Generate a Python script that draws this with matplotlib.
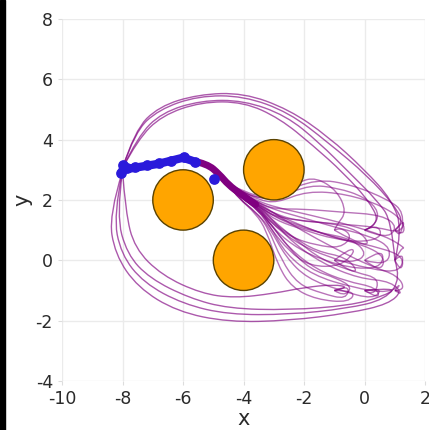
import matplotlib
matplotlib.use("Agg")
import matplotlib.pyplot as plt
from matplotlib.path import Path
from matplotlib.patches import PathPatch, Circle, Rectangle

plt.rcParams["axes.unicode_minus"] = False

# obstacles
obs_x = [-6.0, -3.0, -4.0]
obs_y = [2.0, 3.0, 0.0]
obs_r = [1.0, 1.0, 1.0]

# executed part (blue) and shared purple bundle
exec_x = [-8.0, -7.4, -6.8, -6.4, -6.0, -5.7]
exec_y = [3.0, 3.1, 3.2, 3.3, 3.4, 3.3]
dots_x = [-8.05, -8.0, -7.85, -7.6, -7.2, -6.8, -6.4, -5.96, -5.6, -4.97]
dots_y = [2.9, 3.15, 3.05, 3.1, 3.15, 3.22, 3.3, 3.44, 3.25, 2.7]

bundle_x = [-5.7, -5.2, -4.8, -4.5]
bundle_y = [3.3, 3.2, 2.85, 2.5]

# fanned out trajectories (tails after the bundle), three per goal
fan_x = [
    [-4.1, -3.5, -3.0, -2.2, -1.2, -0.2, 0.2, -0.3, -1.0],
    [-4.1, -3.5, -2.9, -2.2, -1.6, -0.9, -0.6, -0.9, -1.0],
    [-4.1, -3.5, -3.1, -2.4, -1.6, -0.8, -0.4, -0.8, -1.0],
    [-4.1, -3.5, -3.0, -2.0, -0.8, 0.6, 1.1, 0.7, 0.0],
    [-4.1, -3.5, -2.8, -1.8, -0.9, 0.0, 0.5, 0.3, 0.0],
    [-4.1, -3.5, -3.0, -2.0, -1.0, 0.0, 0.6, 0.4, 0.0],
    [-4.1, -3.5, -2.9, -1.9, -0.6, 0.6, 1.3, 1.3, 1.0],
    [-4.1, -3.5, -3.0, -2.0, -0.8, 0.4, 1.2, 1.35, 1.0],
    [-4.1, -3.5, -2.8, -1.6, -0.4, 0.8, 1.3, 1.2, 1.0],
    [-4.1, -3.5, -3.1, -2.4, -1.6, -0.6, -0.2, -0.6, -1.0],
    [-4.1, -3.5, -3.1, -2.5, -1.8, -0.8, -0.3, -0.5, -1.0],
    [-4.1, -3.5, -3.0, -2.2, -1.4, -0.4, 0.1, -0.4, -1.0],
    [-4.1, -3.5, -3.0, -2.2, -1.2, 0.0, 0.7, 0.5, 0.0],
    [-4.1, -3.5, -3.1, -2.4, -1.4, -0.2, 0.6, 0.6, 0.0],
    [-4.1, -3.5, -2.9, -2.0, -1.0, 0.2, 0.9, 0.7, 0.0],
    [-4.1, -3.5, -3.0, -2.0, -0.8, 0.6, 1.3, 1.2, 1.0],
    [-4.1, -3.5, -2.9, -1.8, -0.6, 0.7, 1.35, 1.2, 1.0],
    [-4.1, -3.5, -3.1, -2.3, -1.2, 0.2, 1.2, 1.3, 1.0],
    [-4.15, -3.6, -3.2, -2.75, -2.2, -1.4, -0.6, -0.5, -1.0],
    [-4.15, -3.6, -3.25, -2.85, -2.4, -1.6, -0.5, -0.3, -1.0],
    [-4.1, -3.5, -3.1, -2.5, -1.8, -0.9, -0.4, -0.7, -1.0],
    [-4.1, -3.5, -3.1, -2.5, -1.6, -0.6, 0.4, 0.5, 0.0],
    [-4.15, -3.6, -3.15, -2.6, -1.9, -0.8, 0.3, 0.6, 0.0],
    [-4.1, -3.5, -3.0, -2.3, -1.4, -0.3, 0.5, 0.3, 0.0],
    [-4.1, -3.5, -3.0, -2.4, -1.4, -0.2, 0.9, 1.3, 1.0],
    [-4.1, -3.5, -3.1, -2.6, -1.7, -0.4, 0.8, 1.3, 1.0],
    [-4.1, -3.5, -2.9, -2.1, -1.0, 0.2, 1.1, 1.35, 1.0],
]
fan_y = [
    [2.2, 1.85, 1.55, 1.3, 1.25, 1.0, 0.5, 0.6, 1.0],
    [2.3, 2.05, 2.05, 2.6, 2.75, 2.3, 1.6, 1.2, 1.0],
    [2.15, 1.75, 1.25, 0.75, 0.5, 0.4, 0.8, 1.1, 1.0],
    [2.25, 1.9, 1.7, 1.7, 1.6, 1.5, 1.1, 0.7, 1.0],
    [2.3, 2.05, 2.1, 2.5, 2.4, 2.1, 1.6, 1.1, 1.0],
    [2.2, 1.8, 1.35, 1.0, 0.7, 0.6, 0.8, 1.2, 1.0],
    [2.3, 2.0, 1.9, 2.3, 2.2, 1.8, 1.3, 0.8, 1.0],
    [2.2, 1.85, 1.45, 1.3, 1.2, 1.1, 0.9, 1.4, 1.0],
    [2.35, 2.1, 2.2, 2.7, 2.5, 2.0, 1.6, 0.7, 1.0],
    [2.15, 1.75, 1.3, 0.8, 0.3, 0.1, -0.4, -0.3, 0.0],
    [2.1, 1.65, 1.05, 0.3, -0.2, -0.2, 0.3, 0.4, 0.0],
    [2.2, 1.8, 1.45, 1.1, 0.9, 0.7, 0.2, -0.1, 0.0],
    [2.2, 1.85, 1.55, 1.2, 0.8, 0.5, 0.1, -0.4, 0.0],
    [2.15, 1.7, 1.15, 0.5, 0.0, -0.3, -0.2, 0.4, 0.0],
    [2.25, 1.9, 1.65, 1.4, 1.1, 0.8, 0.4, -0.2, 0.0],
    [2.2, 1.8, 1.45, 1.1, 0.7, 0.4, 0.1, -0.4, 0.0],
    [2.25, 1.95, 1.75, 1.5, 1.2, 0.8, 0.4, 0.4, 0.0],
    [2.15, 1.7, 1.25, 0.6, 0.1, -0.3, -0.4, 0.3, 0.0],
    [2.05, 1.6, 1.1, 0.0, -0.8, -1.1, -1.3, -0.8, -1.0],
    [2.05, 1.55, 1.0, -0.2, -0.9, -1.3, -1.4, -1.0, -1.0],
    [2.1, 1.65, 1.2, 0.4, -0.3, -0.6, -0.9, -1.2, -1.0],
    [2.1, 1.7, 1.2, 0.4, -0.3, -0.7, -0.9, -1.3, -1.0],
    [2.05, 1.6, 1.1, 0.1, -0.6, -1.0, -1.3, -0.9, -1.0],
    [2.15, 1.75, 1.3, 0.7, 0.0, -0.4, -0.6, -1.2, -1.0],
    [2.15, 1.8, 1.3, 0.6, -0.1, -0.6, -0.7, -1.2, -1.0],
    [2.1, 1.65, 1.1, 0.2, -0.5, -0.9, -1.1, -0.7, -1.0],
    [2.25, 1.9, 1.5, 1.0, 0.4, -0.2, -0.5, -1.0, -1.0],
]

# loops over the top
up_x = [
    [-8.0, -7.6, -6.8, -5.5, -4.0, -2.5, -1.2, 0.0, 0.9, 1.25, 1.0],
    [-8.0, -7.6, -6.8, -5.5, -4.0, -2.5, -1.2, 0.1, 1.0, 1.3, 1.0],
    [-8.0, -7.5, -6.7, -5.4, -4.0, -2.6, -1.5, -0.5, 0.4, 0.9, 1.0],
    [-8.0, -7.5, -6.7, -5.4, -4.0, -2.8, -1.7, -0.7, 0.2, 0.5, 0.0],
]
up_y = [
    [3.05, 4.3, 5.1, 5.5, 5.55, 5.0, 4.1, 3.0, 2.0, 1.0, 0.0],
    [3.05, 4.25, 5.0, 5.45, 5.45, 4.9, 3.9, 2.8, 1.8, 1.2, 1.0],
    [3.05, 4.1, 4.9, 5.3, 5.3, 4.8, 3.9, 2.9, 2.0, 1.3, 0.0],
    [3.05, 4.0, 4.8, 5.25, 5.25, 4.7, 3.8, 2.9, 1.9, 1.2, 1.0],
]

# loops underneath
low_x = [
    [-8.0, -8.45, -8.25, -7.5, -6.2, -4.5, -2.5, -0.5, 0.8, 1.25, 1.0],
    [-8.0, -8.3, -8.05, -7.3, -6.0, -4.5, -2.5, -0.6, 0.7, 1.2, 1.0],
    [-8.0, -8.2, -7.85, -7.1, -5.8, -4.5, -2.5, -0.5, 0.6, 1.1, 0.0],
    [-8.0, -7.9, -7.6, -6.7, -5.4, -4.3, -3.0, -2.0, -1.0, -0.5, -1.0],
]
low_y = [
    [2.95, 1.5, 0.2, -0.9, -1.7, -2.05, -2.0, -1.75, -1.45, -1.0, -1.0],
    [2.95, 1.5, 0.2, -0.75, -1.45, -1.8, -1.8, -1.6, -1.3, -0.6, 0.0],
    [2.95, 1.5, 0.2, -0.6, -1.25, -1.6, -1.65, -1.5, -1.2, -0.9, -1.0],
    [2.95, 1.6, 0.4, -0.5, -1.1, -1.25, -1.1, -0.9, -0.8, -0.9, -1.0],
]

PURPLE = "#800080"


def smooth(ax, xs, ys, **kw):
    pts = list(zip(xs, ys))
    verts = [pts[0]]
    codes = [Path.MOVETO]
    for i in range(1, len(pts) - 1):
        if i == len(pts) - 2:
            end = pts[i + 1]
        else:
            end = ((pts[i][0] + pts[i + 1][0]) / 2, (pts[i][1] + pts[i + 1][1]) / 2)
        verts += [pts[i], end]
        codes += [Path.CURVE3, Path.CURVE3]
    ax.add_patch(PathPatch(Path(verts, codes), fill=False, **kw))


fig = plt.figure(figsize=(4.29, 4.30), dpi=100)
ax = fig.add_axes([0.1445, 0.114, 0.8465, 0.842])

for xs, ys in zip(up_x, up_y):
    smooth(ax, xs, ys, edgecolor=PURPLE, alpha=0.65, lw=1.0)
for xs, ys in zip(low_x, low_y):
    smooth(ax, xs, ys, edgecolor=PURPLE, alpha=0.65, lw=1.0)
for xs, ys in zip(fan_x, fan_y):
    smooth(ax, bundle_x + xs, bundle_y + ys, edgecolor=PURPLE, alpha=0.55, lw=1.0)

smooth(ax, bundle_x + [-4.1, -3.6], bundle_y + [2.2, 1.85], edgecolor=PURPLE, lw=5, capstyle="round")

ax.plot(exec_x, exec_y, color="#2a1adb", lw=6, solid_capstyle="round", zorder=4)
ax.scatter(dots_x, dots_y, s=45, color="#2a1adb", zorder=5)

for cx, cy, r in zip(obs_x, obs_y, obs_r):
    ax.add_patch(Circle((cx, cy), r, facecolor="#ffa500", edgecolor="#5a4200", lw=1.0, zorder=6))

ax.set_xlim(-10, 2)
ax.set_ylim(-4, 8)
ax.set_xticks([-10, -8, -6, -4, -2, 0, 2])
ax.set_yticks([-4, -2, 0, 2, 4, 6, 8])
ax.grid(True, color="#ebebeb", lw=1.0)
ax.set_axisbelow(True)
for s in ax.spines.values():
    s.set_visible(False)
ax.tick_params(length=3, color="#dddddd", labelsize=12.5, labelcolor="#2a2a2a")
ax.set_xlabel("x", fontsize=15, color="#2a2a2a", labelpad=1)
ax.set_ylabel("y", fontsize=15, color="#2a2a2a", labelpad=2)

fig.patches.append(Rectangle((0, 0), 5 / 429, 1, transform=fig.transFigure, color="black", figure=fig))

fig.savefig("out.png", dpi=100)
